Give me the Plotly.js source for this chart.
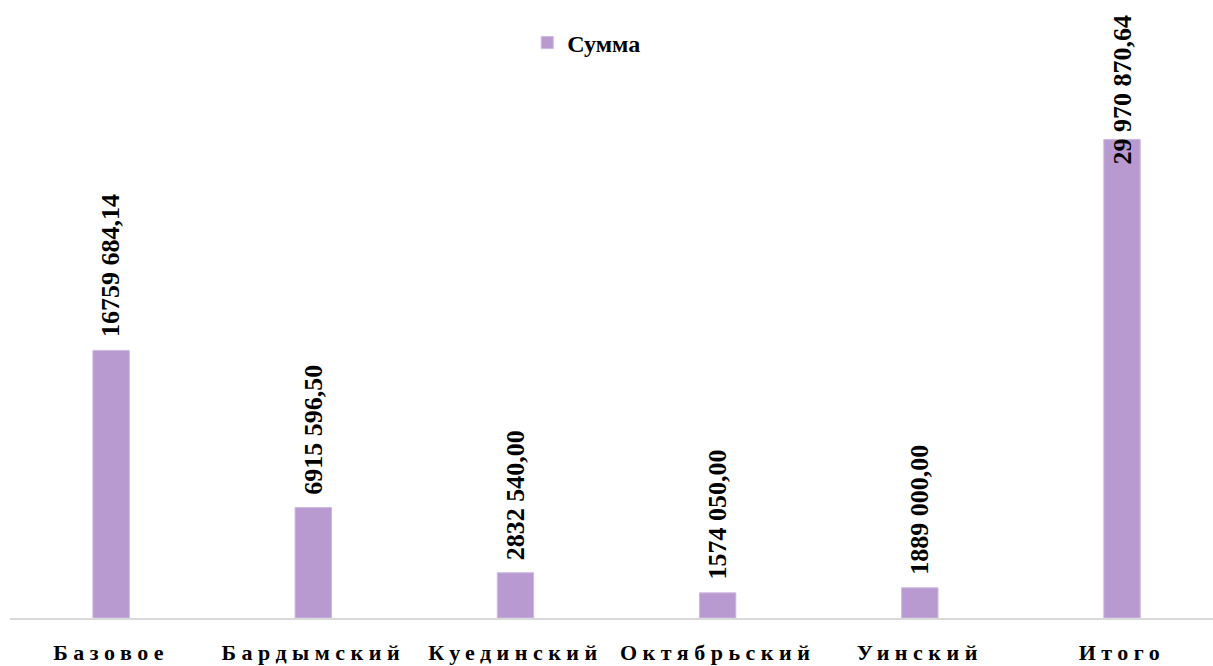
<!DOCTYPE html>
<html><head><meta charset="utf-8">
<script src="https://cdn.plot.ly/plotly-3.0.1.min.js"></script>
<style>
html,body{margin:0;padding:0;background:#fff;}
#chart{width:1213px;height:666px;}
.xtick text{letter-spacing:5.5px;}
</style></head><body>
<div id="chart"></div>
<script>
const categories = ["Базовое", "Бардымский", "Куединский", "Октябрьский", "Уинский", "Итого"];
const sums = [16759684.14, 6915596.50, 2832540.00, 1574050.00, 1889000.00, 29970870.64];
const sumLabels = ["16759 684,14", "6915 596,50", "2832 540,00", "1574 050,00", "1889 000,00", "29 970 870,64"];
const seriesName = "Сумма";

const labelFont = {family: "Liberation Serif, Times New Roman, serif", size: 26, color: "#000"};
const annotations = categories.map((c, i) => ({
  x: c, y: sums[i], xref: "x", yref: "y",
  text: "<b>" + sumLabels[i] + "</b>",
  textangle: -90, showarrow: false,
  xanchor: "center", yanchor: "bottom",
  yshift: i === categories.length - 1 ? -27 : 11,
  font: labelFont
}));

const trace = {
  type: "bar", x: categories, y: sums, name: "<b>" + seriesName + "</b>",
  marker: {color: "#B89AD0", line: {color: "#CDB8E0", width: 1}},
  width: 0.18, hoverinfo: "skip"
};

const layout = {
  width: 1213, height: 666,
  margin: {l: 10, r: 0, t: 20, b: 48},
  paper_bgcolor: "#fff", plot_bgcolor: "#fff",
  showlegend: true,
  legend: {orientation: "h", x: 0.479, xanchor: "center", y: 0.9615, yanchor: "middle",
    font: {family: "Liberation Serif, Times New Roman, serif", size: 24, color: "#000"},
    itemwidth: 30},
  xaxis: {type: "category", range: [-0.5, 5.45], showline: true, linecolor: "#d9d9d9", linewidth: 2,
    ticks: "", showgrid: false, zeroline: false, ticklabelstandoff: 14,
    tickfont: {family: "Liberation Serif, Times New Roman, serif", size: 22, color: "#000", weight: "bold"}},
  yaxis: {range: [0, 37.45e6], showticklabels: false, showgrid: false, zeroline: false, showline: false, ticks: ""},
  annotations: annotations,
  font: {family: "Liberation Serif, Times New Roman, serif"}
};
Plotly.newPlot("chart", [trace], layout, {displayModeBar: false, staticPlot: true});
</script>
</body></html>
